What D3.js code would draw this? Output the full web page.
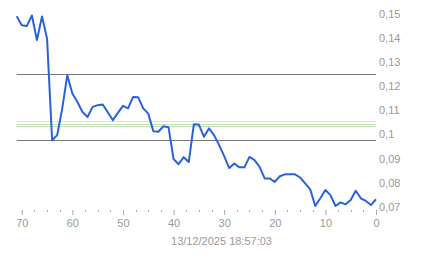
<!DOCTYPE html>
<html>
<head>
<meta charset="utf-8">
<script src="https://cdn.jsdelivr.net/npm/d3@7/dist/d3.min.js"></script>
<style>
	html, body { margin: 0; padding: 0; background: #fff; }
	svg { display: block; font-family: Arial, "Liberation Sans", sans-serif; }
</style>
</head>
<body>
<div id="chart"></div>
<script>

// minutes back from the last quote (71 .. 0)
var ago = [71, 70, 69, 68, 67, 66, 65, 64, 63, 62, 61, 60, 59, 58, 57, 56, 55, 54, 53, 52,
           51, 50, 49, 48, 47, 46, 45, 44, 43, 42, 41, 40, 39, 38, 37, 36, 35, 34, 33, 32,
           31, 30, 29, 28, 27, 26, 25, 24, 23, 22, 21, 20, 19, 18, 17, 16, 15, 14, 13, 12,
           11, 10, 9, 8, 7, 6, 5, 4, 3, 2, 1, 0];

var price = [0.1489, 0.1451, 0.1448, 0.1492, 0.1390, 0.1488, 0.1396, 0.0976, 0.0997, 0.1108,
             0.1245, 0.1169, 0.1134, 0.1093, 0.1072, 0.1114, 0.1121, 0.1124, 0.1092, 0.1059,
             0.1089, 0.1118, 0.1108, 0.1155, 0.1154, 0.1108, 0.1086, 0.1013, 0.1011, 0.1034,
             0.1030, 0.0898, 0.0877, 0.0906, 0.0886, 0.1042, 0.1041, 0.0990, 0.1025, 0.0997,
             0.0956, 0.0910, 0.0861, 0.0880, 0.0864, 0.0864, 0.0907, 0.0894, 0.0866, 0.0818,
             0.0818, 0.0804, 0.0827, 0.0835, 0.0835, 0.0835, 0.0822, 0.0798, 0.0773, 0.0704,
             0.0736, 0.0770, 0.0749, 0.0704, 0.0719, 0.0711, 0.0729, 0.0767, 0.0736, 0.0725,
             0.0708, 0.0732];

// reference levels drawn across the plot
var levels      = [0.1250, 0.1056, 0.1044, 0.1035, 0.0977];
var levelColors = ['#777777', '#f1e3a6', '#bfe3b0', '#bfe3b0', '#777777'];

var yTicks      = [0.15, 0.14, 0.13, 0.12, 0.11, 0.10, 0.09, 0.08, 0.07];
var yTickLabels = ['0,15', '0,14', '0,13', '0,12', '0,11', '0,1', '0,09', '0,08', '0,07'];
var xTicks      = [70, 60, 50, 40, 30, 20, 10, 0];
var stamp       = '13/12/2025 18:57:03';

var width = 443;
var height = 258;

var svg = d3.select('#chart').append('svg')
		.attr('width', width)
		.attr('height', height);

var x = d3.scaleLinear().domain([71, 0]).range([16.7, 376]);
var y = d3.scaleLinear().domain([0.07, 0.15]).range([207, 13.5]);

/**
 * Reference lines
 */
svg.append('g').selectAll('line')
		.data(levels)
		.enter().append('line')
		.attr('x1', x(71))
		.attr('x2', x(0))
		.attr('y1', function(d) {return Math.round(y(d)) + 0.5;})
		.attr('y2', function(d) {return Math.round(y(d)) + 0.5;})
		.attr('stroke', function(d, i) {return levelColors[i];})
		.attr('stroke-width', 1);

/**
 * Price line
 */
var line = d3.line()
		.x(function(d, i) {return x(ago[i]);})
		.y(function(d) {return y(d);});

svg.append('path')
		.datum(price)
		.attr('fill', 'none')
		.attr('stroke', '#2a62d8')
		.attr('stroke-width', 2)
		.attr('stroke-linejoin', 'round')
		.attr('d', line);

/**
 * Bottom axis: major ticks every 10, minor every 2.5
 */
var xAxis = d3.axisBottom(x)
		.tickValues(xTicks)
		.tickSize(5)
		.tickPadding(4)
		.tickFormat(d3.format('d'));

var gx = svg.append('g')
		.attr('transform', 'translate(0,210)')
		.call(xAxis);

gx.select('.domain').remove();
gx.selectAll('line').attr('stroke', '#aaa');
gx.selectAll('text').attr('fill', '#999').attr('font-size', 11).attr('font-family', 'Arial, "Liberation Sans", sans-serif');

var minor = d3.range(0, 71, 2.5).filter(function(v) {return v % 10 != 0;});
svg.append('g').selectAll('line')
		.data(minor)
		.enter().append('line')
		.attr('x1', function(d) {return Math.round(x(d)) + 0.5;})
		.attr('x2', function(d) {return Math.round(x(d)) + 0.5;})
		.attr('y1', 210)
		.attr('y2', 212)
		.attr('stroke', '#aaa');

/**
 * Right axis labels
 */
var yAxis = d3.axisRight(y)
		.tickValues(yTicks)
		.tickSize(0)
		.tickPadding(3)
		.tickFormat(function(d, i) {return yTickLabels[i];});

var gy = svg.append('g')
		.attr('transform', 'translate(376,0)')
		.call(yAxis);

gy.select('.domain').remove();
gy.selectAll('text').attr('fill', '#999').attr('font-size', 11).attr('font-family', 'Arial, "Liberation Sans", sans-serif');

/**
 * Timestamp
 */
svg.append('text')
		.attr('x', width / 2)
		.attr('y', 245)
		.attr('text-anchor', 'middle')
		.attr('fill', '#999')
		.attr('font-size', 11)
		.text(stamp);

</script>
</body>
</html>
